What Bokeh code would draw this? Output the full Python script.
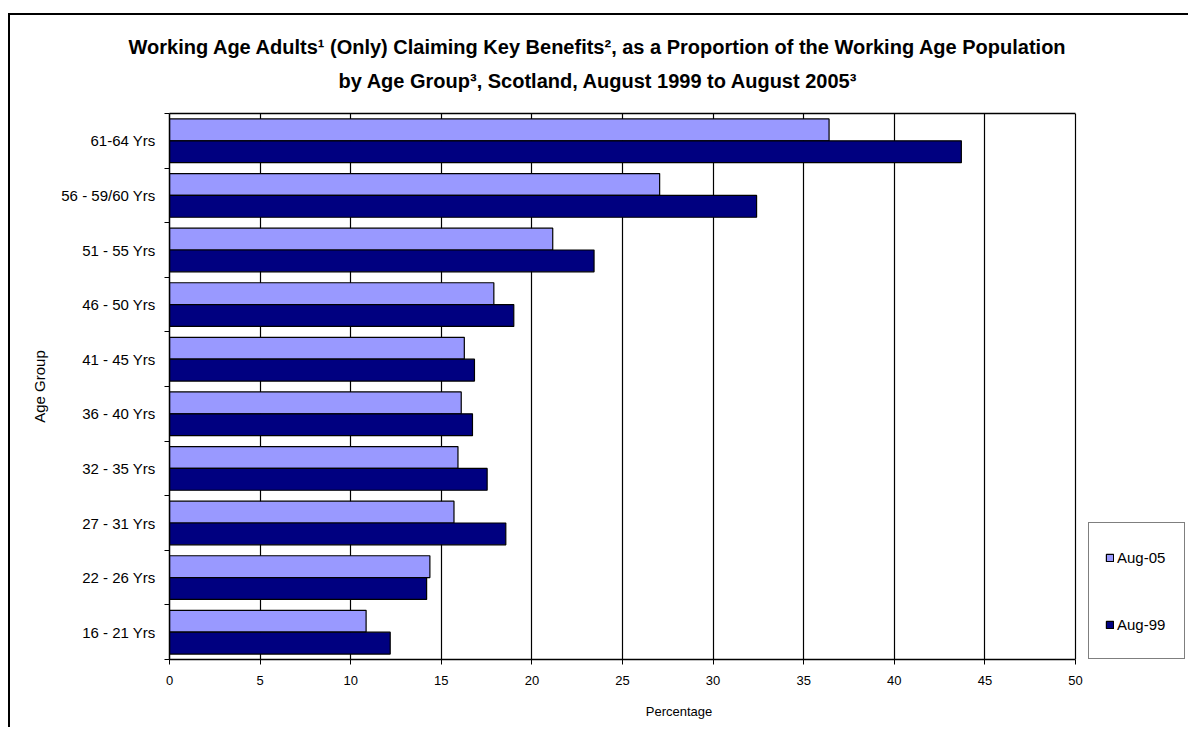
from bokeh.plotting import figure
from bokeh.models import (ColumnDataSource, FactorRange, Range1d, LinearAxis, CategoricalAxis,
                          FixedTicker, Title, Legend, LegendItem)
from bokeh.transform import dodge
from bokeh.embed import file_html
from bokeh.resources import INLINE

categories = ["16 - 21 Yrs", "22 - 26 Yrs", "27 - 31 Yrs", "32 - 35 Yrs", "36 - 40 Yrs",
              "41 - 45 Yrs", "46 - 50 Yrs", "51 - 55 Yrs", "56 - 59/60 Yrs", "61-64 Yrs"]
aug05 = [10.85, 14.37, 15.7, 15.92, 16.1, 16.27, 17.9, 21.15, 27.05, 36.4]
aug99 = [12.18, 14.19, 18.56, 17.53, 16.72, 16.83, 19.0, 23.43, 32.4, 43.7]
x_ticks = [0, 5, 10, 15, 20, 25, 30, 35, 40, 45, 50]
x_max = 50
series_names = ["Aug-05", "Aug-99"]
title_line1 = "Working Age Adults\u00b9 (Only) Claiming Key Benefits\u00b2, as a Proportion of the Working Age Population"
title_line2 = "by Age Group\u00b3, Scotland, August 1999 to August 2005\u00b3"

FONT = "Liberation Sans"
LIGHT = "#9999FF"
DARK = "#000080"

# layout (pixels): the frame is widened to the right so the legend can sit inside it,
# while the value axis 0..50 keeps the reference plot-area width
W, H = 1180, 714
LEFT, RIGHT, TOP, BOTTOM = 159, 2, 98, 70
AREA_W = 906          # width of the 0..50 plot area
FRAME_W = W - LEFT - RIGHT
x_end = x_max * FRAME_W / AREA_W

src = ColumnDataSource(dict(cat=categories, a05=aug05, a99=aug99))

p = figure(width=W, height=H, output_backend="svg", toolbar_location=None,
           y_range=FactorRange(factors=categories), x_range=Range1d(0, x_end),
           y_axis_location=None, x_axis_location="below",
           min_border_left=LEFT, min_border_right=RIGHT, min_border_top=TOP, min_border_bottom=BOTTOM)
p.styles = {"border-top": "2px solid black", "border-left": "2px solid black",
            "margin-top": "13px", "margin-left": "8px"}

r05 = p.hbar(y=dodge("cat", 0.2, range=p.y_range), left=0, right="a05", height=0.4, source=src,
             fill_color=LIGHT, line_color="black", line_width=1.2)
r99 = p.hbar(y=dodge("cat", -0.2, range=p.y_range), left=0, right="a99", height=0.4, source=src,
             fill_color=DARK, line_color="black", line_width=1.2)

# tick marks at the category boundaries (synthetic coordinates 0..10)
boundaries = list(range(len(categories) + 1))
tick_axis = LinearAxis(ticker=FixedTicker(ticks=boundaries),
                       major_label_overrides={b: "" for b in boundaries},
                       major_label_standoff=0,
                       major_tick_in=0, major_tick_out=5, minor_tick_line_color=None,
                       axis_line_color="black", axis_line_width=1.5, major_tick_line_color="black")
p.add_layout(tick_axis, "left")
cat_axis = CategoricalAxis(axis_line_color=None, major_tick_line_color=None,
                           major_label_text_font=FONT, major_label_text_font_size="15px",
                           major_label_text_color="black", major_label_standoff=3,
                           axis_label="Age Group", axis_label_text_font=FONT,
                           axis_label_text_font_size="15px", axis_label_text_font_style="normal",
                           axis_label_text_color="black", axis_label_standoff=10)
p.add_layout(cat_axis, "left")

xa = p.xaxis[0]
xa.bounds = (0, x_max)
xa.ticker = FixedTicker(ticks=x_ticks)
xa.major_tick_in = 0
xa.major_tick_out = 5
xa.minor_tick_line_color = None
xa.axis_line_color = "black"
xa.axis_line_width = 1.5
xa.major_label_text_font = FONT
xa.major_label_text_font_size = "13px"
xa.major_label_text_color = "black"
xa.major_label_standoff = 11
xa.axis_label = "Percentage"
xa.axis_label_text_font = FONT
xa.axis_label_text_font_size = "13px"
xa.axis_label_text_font_style = "normal"
xa.axis_label_text_color = "black"
xa.axis_label_standoff = 16

# top edge of the plot area (0..50 only)
top_edge = LinearAxis(bounds=(0, x_max), ticker=FixedTicker(ticks=[]),
                      major_tick_in=0, major_tick_out=0, minor_tick_in=0, minor_tick_out=0,
                      major_label_standoff=0, axis_line_color="black", axis_line_width=1.5)
p.add_layout(top_edge, "above")

# vertical gridlines, the one at 50 closes the plot area on the right
p.xgrid.ticker = FixedTicker(ticks=x_ticks[1:])
p.xgrid.grid_line_color = "black"
p.xgrid.grid_line_width = 1.2
p.ygrid.grid_line_color = None

p.outline_line_color = None
p.background_fill_color = "white"
p.border_fill_color = "white"

p.title = None
t2 = Title(text=title_line2, text_font=FONT, text_font_size="20px",
           text_font_style="bold", text_color="black",
           align="left", offset=169, vertical_align="bottom", standoff=44)
t1 = Title(text=title_line1, text_font=FONT, text_font_size="20px",
           text_font_style="bold", text_color="black",
           align="left", offset=-41, vertical_align="bottom", standoff=0)
try:
    t1.standoff = -24
except Exception:
    t1.standoff = 0
p.add_layout(t2, "above")
p.add_layout(t1, "above")

legend = Legend(items=[LegendItem(label=series_names[0], renderers=[r05]),
                       LegendItem(label=series_names[1], renderers=[r99])],
                location=(919, 0), orientation="vertical",
                glyph_width=9, glyph_height=9, label_height=36, label_width=51,
                spacing=31, padding=16, label_standoff=3,
                label_text_font=FONT, label_text_font_size="15px", label_text_color="black",
                border_line_color="black", border_line_width=1.5,
                background_fill_color="white", background_fill_alpha=1)
p.add_layout(legend, "center")

open("out.html", "w").write(file_html(p, INLINE))
